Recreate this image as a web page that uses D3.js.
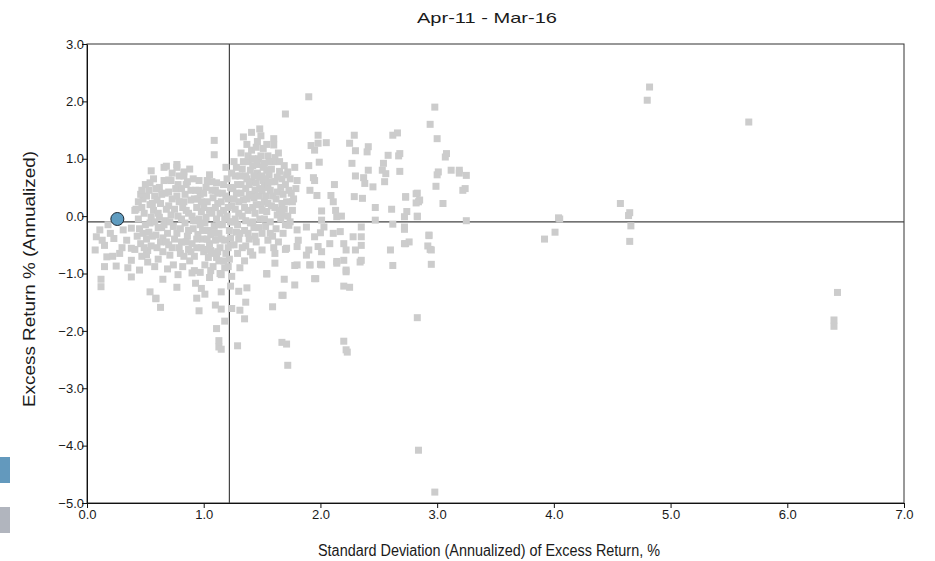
<!DOCTYPE html>
<html>
<head>
<meta charset="utf-8">
<script src="https://cdn.jsdelivr.net/npm/d3@7"></script>
<style>
  body { margin: 0; background: #fff; }
  #chart text { font-family: "Liberation Sans", Arial, sans-serif; fill: #1a1a1a; }
</style>
</head>
<body>
<div id="chart"></div>
<script>
// chart title and axis labels
const title = "Apr-11 - Mar-16";
const xLabel = "Standard Deviation (Annualized) of Excess Return, %";
const yLabel = "Excess Return % (Annualized)";

const xTicks = [0, 1, 2, 3, 4, 5, 6, 7];
const yTicks = [-5, -4, -3, -2, -1, 0, 1, 2, 3];

// reference cross lines (median risk / median return)
const medianRisk = 1.22;
const medianReturn = -0.1;

// the highlighted fund
const fund = [[0.26, -0.05]];

// peer universe: [std dev, excess return]
const peersLeft = [
  [0.08,-0.36],[0.07,-0.59],[0.11,-0.24],[0.23,-0.39],[0.28,-0.65],[0.17,-0.71],[0.25,-0.87],
  [0.38,-0.56],[0.31,-0.24],[0.34,-0.42],[0.15,-0.51],[0.38,-0.21],[0.38,-0.77],[0.12,-1.10],
  [0.12,-1.23],[0.15,-0.88],[0.38,-1.06],[0.45,-0.94],[0.51,-0.67],[0.20,-0.30],[0.30,-0.55],
  [0.22,-0.70],[0.13,-0.42],[0.35,-0.90],[0.18,-0.15]
];

const peersCore = [
  [0.42,0.12],[0.44,-0.05],[0.45,-0.22],[0.43,-0.35],[0.46,-0.48],[0.48,0.30],[0.49,0.05],[0.50,-0.15],
  [0.51,-0.40],[0.52,-0.60],[0.47,-0.70],[0.53,0.45],[0.54,0.20],[0.55,-0.02],[0.53,-0.28],[0.55,-0.52],
  [0.50,0.55],[0.52,-0.80],[0.41,-0.58],[0.46,0.38],[0.48,-0.30],[0.54,-0.12],
  [0.57,0.65],[0.58,0.35],[0.57,0.10],[0.58,-0.10],[0.59,-0.33],[0.60,-0.55],[0.61,-0.75],[0.62,0.50],
  [0.63,0.22],[0.62,-0.02],[0.64,-0.20],[0.63,-0.45],[0.65,-0.62],[0.66,0.85],[0.67,0.40],[0.68,0.12],
  [0.67,-0.08],[0.69,-0.30],[0.70,-0.50],[0.71,-0.68],[0.72,0.62],[0.73,0.30],[0.72,0.02],[0.74,-0.18],
  [0.75,-0.40],[0.74,-0.85],[0.70,0.18],[0.76,0.48],[0.60,0.28],[0.65,-0.38],[0.69,-0.92],[0.58,-0.88],
  [0.77,0.90],[0.78,0.55],[0.79,0.25],[0.78,0.00],[0.80,-0.22],[0.81,-0.45],[0.80,-0.65],[0.82,-0.88],
  [0.83,0.70],[0.84,0.38],[0.85,0.10],[0.84,-0.12],[0.86,-0.35],[0.87,-0.58],[0.88,-0.78],[0.86,0.60],
  [0.89,0.28],[0.90,0.00],[0.91,-0.22],[0.90,-0.48],[0.92,-0.70],[0.93,0.45],[0.94,0.15],[0.93,-0.08],
  [0.95,-0.32],[0.94,-0.55],[0.92,-0.95],[0.88,0.82],[0.82,0.15],[0.87,-0.25],[0.91,0.65],[0.95,0.30],
  [0.96,0.62],[0.97,0.38],[0.98,0.08],[0.97,-0.15],[0.99,-0.40],[1.00,-0.62],[1.01,-0.85],[1.02,0.50],
  [1.03,0.25],[1.02,-0.02],[1.04,-0.25],[1.05,-0.48],[1.04,-0.72],[1.06,-0.95],[1.07,0.60],[1.08,0.32],
  [1.07,0.05],[1.09,-0.18],[1.10,-0.42],[1.09,-0.65],[1.08,-0.88],[1.00,0.15],[1.05,0.72],[1.06,-0.32],
  [0.99,-0.25],[1.03,-0.58],[1.10,0.45],
  [1.11,0.58],[1.12,0.22],[1.11,-0.05],[1.13,-0.30],[1.14,-0.55],[1.13,-0.78],[1.15,-1.02],[1.16,0.40],
  [1.17,0.10],[1.16,-0.15],[1.18,-0.42],[1.19,-0.65],[1.18,-0.90],[1.20,0.65],[1.21,0.30],[1.20,0.00],
  [1.22,-0.25],[1.23,-0.50],[1.22,-0.75],[1.24,-1.05],[1.25,0.48],[1.24,0.18],[1.25,-0.10],[1.23,-0.38],
  [1.14,0.05],[1.19,0.85],[1.21,-0.88],[1.12,-0.62],
  [1.26,0.95],[1.27,0.70],[1.28,0.40],[1.27,0.12],[1.29,-0.15],[1.30,-0.40],[1.29,-0.65],[1.31,-0.90],
  [1.32,1.10],[1.33,0.82],[1.32,0.55],[1.34,0.28],[1.33,0.00],[1.35,-0.25],[1.36,-0.52],[1.35,-0.78],
  [1.37,1.25],[1.38,0.95],[1.37,0.65],[1.39,0.38],[1.38,0.10],[1.40,-0.12],[1.39,-0.40],[1.40,-0.62],
  [1.30,0.25],[1.34,1.38],[1.36,0.48],[1.28,-0.28],
  [1.41,1.15],[1.42,0.88],[1.41,0.60],[1.43,0.32],[1.44,0.05],[1.43,-0.20],[1.45,-0.45],[1.46,1.30],
  [1.47,1.00],[1.46,0.75],[1.48,0.48],[1.49,0.20],[1.48,-0.05],[1.50,-0.30],[1.51,1.18],[1.52,0.92],
  [1.51,0.62],[1.53,0.35],[1.54,0.08],[1.53,-0.18],[1.55,-0.42],[1.54,0.80],[1.45,0.58],[1.50,0.70],
  [1.42,0.15],[1.52,0.50],[1.49,1.40],[1.55,1.05],
  [1.56,0.72],[1.57,0.45],[1.58,0.18],[1.57,-0.10],[1.59,-0.35],[1.60,0.95],[1.61,0.60],[1.62,0.30],
  [1.63,0.02],[1.62,-0.22],[1.64,1.10],[1.65,0.78],[1.66,0.50],[1.67,0.22],[1.66,-0.05],[1.68,-0.30],
  [1.69,0.88],[1.70,0.55],[1.71,0.25],[1.72,0.00],[1.74,0.65],[1.75,0.40],[1.76,0.10],[1.78,0.85],
  [1.79,0.48],[1.60,-0.55],[1.64,-0.45],[1.70,-0.15]
];

const peersDense = [
  [0.44,0.25],[0.47,0.15],[0.49,-0.55],[0.51,0.35],[0.56,-0.35],[0.56,0.22],[0.59,0.48],[0.61,0.05],
  [0.61,-0.20],[0.64,0.38],[0.66,-0.15],[0.66,0.62],[0.68,-0.45],[0.70,0.42],[0.71,-0.10],[0.73,-0.55],
  [0.73,0.75],[0.75,0.12],[0.77,-0.30],[0.77,0.35],[0.79,-0.55],[0.79,0.70],[0.81,0.48],[0.81,-0.05],
  [0.83,-0.70],[0.83,0.25],[0.85,-0.45],[0.85,0.55],[0.87,0.05],[0.89,-0.62],[0.89,0.45],[0.91,-0.08],
  [0.92,0.30],[0.94,-0.40],[0.96,-0.05],[0.96,0.45],[0.98,-0.55],[0.98,0.25],[1.00,0.40],[1.01,-0.12],
  [1.03,-0.40],[1.03,0.62],[1.05,0.10],[1.06,-0.60],[1.07,0.45],[1.08,-0.30],[1.10,0.15],[1.11,-0.72],
  [1.12,0.40],[1.13,-0.15],[1.15,0.25],[1.15,-0.40],[1.17,-0.78],[1.17,0.55],[1.18,-0.05],[1.19,0.35],
  [1.21,-0.55],[1.21,0.15],[1.23,0.50],[1.23,-0.10],[1.24,0.75],[1.26,-0.50],[1.26,0.30],[1.27,-0.05],
  [1.28,0.85],[1.29,0.55],[1.30,0.05],[1.31,-0.30],[1.31,0.70],[1.32,0.40],[1.33,-0.55],[1.34,0.95],
  [1.35,0.15],[1.36,0.70],[1.36,-0.08],[1.37,0.30],[1.38,-0.30],[1.38,1.05],[1.39,0.55],[1.40,0.80],
  [1.41,0.35],[1.42,-0.10],[1.42,1.00],[1.43,0.70],[1.44,0.45],[1.44,-0.35],[1.45,0.20],[1.45,1.20],
  [1.46,0.90],[1.47,0.35],[1.47,-0.20],[1.48,0.68],[1.49,1.05],[1.50,0.45],[1.50,0.10],[1.51,0.85],
  [1.52,-0.05],[1.52,0.25],[1.53,0.65],[1.54,1.25],[1.55,0.55],[1.55,0.22],[1.56,0.95],[1.57,-0.30],
  [1.58,0.60],[1.58,0.82],[1.59,0.35],[1.61,0.15],[1.61,1.02],[1.63,0.68],[1.63,0.42],[1.65,0.10],
  [1.65,0.95],[1.67,0.65],[1.68,0.38],[1.69,0.12],[1.71,0.72],[1.73,0.45],[1.74,-0.10],[1.77,0.30],
  [1.80,0.62]
];

const peersTop = [
  [1.09,1.32],[1.09,1.07],[0.55,0.79],[0.68,0.87],[0.77,0.85],[0.83,0.77],[0.70,0.63],[0.54,0.58],
  [0.47,0.45],[0.41,0.10],[1.90,2.08],[1.70,1.78],[1.48,1.52],[1.41,1.46],[1.60,1.35],[1.60,1.24]
];

const peersLow = [
  [0.54,-1.32],[0.59,-1.44],[0.63,-1.59],[0.65,-1.10],[0.77,-1.24],[0.96,-1.65],[1.11,-1.96],
  [1.18,-1.83],[1.13,-2.17],[1.13,-2.28],[1.15,-2.32],[1.29,-2.26],[1.35,-1.79],[1.59,-1.58],
  [1.67,-1.38],[0.59,-1.43],[0.93,-1.17],[0.94,-1.43],[1.01,-1.36],[0.98,-1.26],[1.10,-1.55],
  [1.15,-1.62],[1.24,-1.61],[1.31,-1.64],[1.36,-1.50],[1.15,-1.32],[1.23,-1.22],[1.30,-1.31],
  [1.37,-1.25],[1.05,-1.07],[1.14,-1.00],[0.90,-0.99],[0.97,-0.98],[0.78,-1.02],[1.54,-1.01],
  [1.69,-1.10],[1.78,-1.20],[1.96,-1.09],[2.20,-1.22],[2.25,-1.24],[1.71,-2.23],[1.67,-2.20],
  [1.72,-2.60],[2.20,-2.18],[2.22,-2.33],[2.23,-2.37],[1.68,-1.38],[1.78,-0.86],[1.91,-0.85],
  [2.00,-0.84],[2.14,-0.79],[2.22,-0.97],[2.34,-0.80],[2.62,-0.86],[2.95,-0.84],[2.83,-1.77],
  [2.84,-4.08],[2.98,-4.81]
];

const peersMid = [
  [1.98,1.41],[1.98,1.27],[1.92,1.23],[1.95,1.15],[2.05,1.28],[1.99,0.94],[1.90,0.88],[1.94,0.67],
  [1.95,0.62],[1.91,0.45],[1.97,0.36],[2.12,0.55],[2.09,0.36],[2.11,0.25],[2.13,0.10],[2.14,-0.01],
  [2.01,0.09],[2.01,-0.07],[2.18,0.00],[2.29,1.41],[2.25,1.27],[2.30,1.14],[2.41,1.21],[2.40,1.12],
  [2.27,0.92],[2.30,0.70],[2.37,0.67],[2.41,0.80],[2.45,0.51],[2.38,0.57],[2.29,0.34],[2.36,0.31],
  [2.47,0.15],[2.47,-0.07],[2.53,0.80],[2.56,0.74],[2.54,0.92],[2.58,1.06],[2.55,0.60],[2.62,1.41],
  [2.66,1.45],[2.68,1.09],[2.67,1.05],[2.68,0.78],[2.61,0.12],[2.62,-0.14],[2.60,-0.59],
  [1.80,-0.24],[1.81,-0.42],[1.80,-0.53],[1.88,-0.19],[1.90,-0.59],[1.88,-0.68],[1.95,-0.36],
  [2.00,-0.29],[2.01,-0.62],[2.01,-0.85],[1.91,-0.85],[1.80,-0.85],[1.95,-1.09],[1.54,-1.00],
  [1.61,-0.65],[1.61,-0.82],[1.70,-0.58],[1.50,-0.59],[1.42,-0.68],[2.08,-0.48],[2.11,-0.30],
  [2.17,-0.27],[2.20,-0.48],[2.22,-0.59],[2.20,-0.77],[2.14,-0.82],[2.22,-0.94],[2.28,-0.36],
  [2.35,-0.19],[2.35,-0.36],[2.35,-0.51],[2.35,-0.77],[2.30,-0.59],[2.03,-0.19],[1.98,-0.53],
  [1.71,-0.56],[1.73,-0.16],[1.67,0.02],[1.76,0.25],[1.72,0.77]
];

const peersRight = [
  [2.73,0.34],[2.72,-0.19],[2.73,-0.48],[2.83,0.40],[2.84,0.25],[2.83,0.00],[2.93,-0.33],[2.94,-0.58],
  [2.76,-0.45],[2.98,1.90],[2.94,1.60],[3.00,1.35],[3.08,1.09],[3.07,1.03],[3.01,0.77],[3.00,0.72],
  [2.99,0.52],[3.05,0.22],[3.12,0.80],[3.19,0.80],[3.19,0.75],[3.25,0.71],[3.24,0.48],[3.22,0.45],
  [3.25,-0.08],[2.82,0.39],[2.85,0.28],[2.82,0.23],[2.73,0.33],[2.83,-0.01],[2.74,0.08],[2.72,-0.01],
  [2.72,-0.23],[2.93,-0.34],[2.92,-0.52],[2.95,-0.59],[2.72,-0.48],
  [3.92,-0.40],[4.01,-0.28],[4.04,-0.03],[4.05,-0.05],[4.57,0.22],[4.65,0.06],[4.64,0.01],[4.66,-0.17],
  [4.65,-0.44],[4.80,2.02],[4.82,2.25],[5.67,1.64],[6.43,-1.33],[6.40,-1.81],[6.40,-1.92]
];

const peers = [].concat(peersLeft, peersCore, peersDense, peersTop, peersLow, peersMid, peersRight);

// legend swatches (clipped at the left edge in the original)
const legendColors = ["#6399bd", "#b1b5be"];

const width = 935;
const height = 561;
const margin = {top: 44, right: 31, bottom: 58, left: 87};
const markerSize = 7;

const svg = d3.select("#chart")
  .append("svg")
  .attr("width", width)
  .attr("height", height);

const x = d3.scaleLinear()
  .domain([0, 7])
  .range([margin.left, width - margin.right]);

const y = d3.scaleLinear()
  .domain([-5, 3])
  .range([height - margin.bottom, margin.top]);

// title (the original text is drawn a little wide)
svg.append("text")
  .attr("x", 487)
  .attr("y", 23)
  .attr("text-anchor", "middle")
  .attr("textLength", 140)
  .attr("lengthAdjust", "spacingAndGlyphs")
  .style("font-size", "15px")
  .text(title);

// frame
svg.append("rect")
  .attr("x", x(0))
  .attr("y", y(3))
  .attr("width", x(7) - x(0))
  .attr("height", y(-5) - y(3))
  .attr("fill", "none")
  .attr("stroke", "#333")
  .attr("stroke-width", 1);

// cross lines
svg.append("line")
  .attr("x1", x(0)).attr("x2", x(7))
  .attr("y1", y(medianReturn)).attr("y2", y(medianReturn))
  .attr("stroke", "#444").attr("stroke-width", 1.2);

svg.append("line")
  .attr("x1", x(medianRisk)).attr("x2", x(medianRisk))
  .attr("y1", y(3)).attr("y2", y(-5))
  .attr("stroke", "#444").attr("stroke-width", 1.2);

// axes
const xAxis = d3.axisBottom(x)
  .tickValues(xTicks)
  .tickFormat(d3.format(".1f"))
  .tickSize(5)
  .tickSizeOuter(0);

const yAxis = d3.axisLeft(y)
  .tickValues(yTicks)
  .tickFormat(d3.format(".1f"))
  .tickSize(5)
  .tickSizeOuter(0);

svg.append("g")
  .attr("transform", "translate(0," + y(-5) + ")")
  .call(xAxis)
  .call(g => g.selectAll("text").style("font-size", "13px").attr("dy", "0.6em"))
  .call(g => g.selectAll("line, path").attr("stroke", "#111"));

svg.append("g")
  .attr("transform", "translate(" + x(0) + ",0)")
  .call(yAxis)
  .call(g => g.selectAll("text").style("font-size", "13px").attr("x", -3))
  .call(g => g.selectAll("line, path").attr("stroke", "#111"));

// axis titles
svg.append("text")
  .attr("x", 489)
  .attr("y", 556)
  .attr("text-anchor", "middle")
  .attr("textLength", 342)
  .attr("lengthAdjust", "spacingAndGlyphs")
  .style("font-size", "16px")
  .text(xLabel);

svg.append("text")
  .attr("transform", "translate(35," + 279 + ") rotate(-90)")
  .attr("text-anchor", "middle")
  .attr("textLength", 256)
  .attr("lengthAdjust", "spacingAndGlyphs")
  .style("font-size", "17px")
  .text(yLabel);

// peer squares
svg.append("g")
  .selectAll("rect")
  .data(peers)
  .enter()
  .append("rect")
  .attr("x", d => x(d[0]) - markerSize / 2)
  .attr("y", d => y(d[1]) - markerSize / 2)
  .attr("width", markerSize)
  .attr("height", markerSize)
  .attr("fill", "#cccccc");

// highlighted fund
svg.append("g")
  .selectAll("circle")
  .data(fund)
  .enter()
  .append("circle")
  .attr("cx", d => x(d[0]))
  .attr("cy", d => y(d[1]))
  .attr("r", 6.5)
  .attr("fill", "#5f9cc0")
  .attr("stroke", "#1c2833")
  .attr("stroke-width", 1);

// legend swatches at left edge
svg.append("g")
  .selectAll("rect")
  .data(legendColors)
  .enter()
  .append("rect")
  .attr("x", 0)
  .attr("y", (d, i) => 457 + i * 50)
  .attr("width", 10)
  .attr("height", 26)
  .attr("fill", d => d);
</script>
</body>
</html>
